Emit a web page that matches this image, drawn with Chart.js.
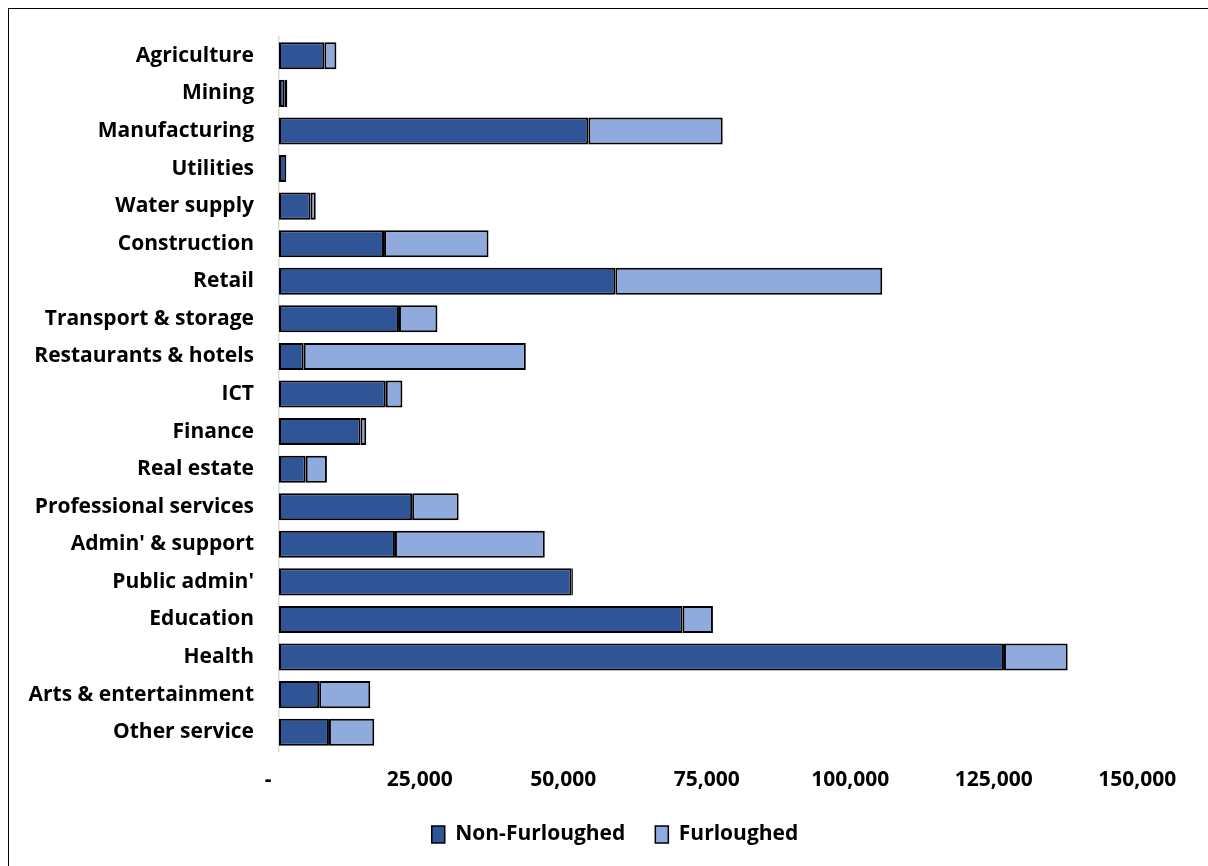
<!DOCTYPE html>
<html>
<head>
<meta charset="utf-8">
<script src="https://cdn.jsdelivr.net/npm/chart.js@4"></script>
<style>
  body { margin: 0; background: #fff; }
  #frame {
    position: absolute; left: 8px; top: 8px; width: 1210px; height: 870px;
    border: 1.5px solid #000; box-sizing: border-box;
  }
  #wrap { position: absolute; left: 8px; top: 8px; width: 1200px; height: 858px; }
</style>
</head>
<body>
<div id="frame"></div>
<div id="wrap"><canvas id="chart"></canvas></div>
<script>
// sectors, top to bottom
const sectors = [
    "Agriculture", "Mining", "Manufacturing", "Utilities", "Water supply",
    "Construction", "Retail", "Transport & storage", "Restaurants & hotels", "ICT",
    "Finance", "Real estate", "Professional services", "Admin' & support", "Public admin'",
    "Education", "Health", "Arts & entertainment", "Other service"
];

// employees not on furlough
const nonFurloughed = [
    7900, 1000, 53900, 1270, 5500,
    18300, 58600, 20900, 4300, 18600,
    14200, 4650, 23200, 20200, 51000,
    70300, 126300, 7000, 8700
];

// employees on furlough
const furloughed = [
    2100, 450, 23400, 0, 900,
    18200, 46500, 6700, 38700, 2900,
    1000, 3700, 8100, 26100, 200,
    5300, 11100, 8900, 7900
];

const xTicks = [0, 25000, 50000, 75000, 100000, 125000, 150000];

const FONT = "'Open Sans', sans-serif";
const labelFont = { family: FONT, size: 21, weight: 'bold' };

const barStyle = { borderColor: '#000', borderWidth: 2, borderSkipped: false,
                   barPercentage: 0.72, categoryPercentage: 1 };

new Chart(document.getElementById('chart'), {
    type: 'bar',
    data: {
        labels: sectors,
        datasets: [
            { label: 'Non-Furloughed', data: nonFurloughed, backgroundColor: '#2F5597', ...barStyle },
            { label: 'Furloughed', data: furloughed, backgroundColor: '#8FAADC', ...barStyle }
        ]
    },
    options: {
        indexAxis: 'y',
        responsive: true,
        maintainAspectRatio: false,
        animation: false,
        layout: { padding: { top: 29, right: 0, left: 14, bottom: 11 } },
        plugins: {
            tooltip: { enabled: false },
            legend: {
                position: 'bottom',
                labels: {
                    color: '#000',
                    font: labelFont,
                    boxWidth: 13, boxHeight: 17, padding: 30,
                    generateLabels: chart => chart.data.datasets.map((ds, i) => ({
                        text: ds.label, fillStyle: ds.backgroundColor, strokeStyle: '#000',
                        lineWidth: 1.5, datasetIndex: i, fontColor: '#000'
                    }))
                }
            }
        },
        scales: {
            x: {
                stacked: true,
                min: 0, max: 150000,
                afterBuildTicks: s => { s.ticks = xTicks.map(v => ({ value: v })); },
                grid: { display: false, drawTicks: false },
                border: { display: false },
                ticks: {
                    padding: 16,
                    color: '#000',
                    font: labelFont,
                    callback: v => v === 0 ? '-    ' : v.toLocaleString('en-US') + ' '
                },
                afterFit: s => { s.height = 43; s.paddingRight = 68; }
            },
            y: {
                stacked: true,
                grid: { display: false, drawTicks: false },
                border: { display: true, color: '#d9d9d9', width: 1.5 },
                ticks: {
                    padding: 25,
                    color: '#000',
                    font: labelFont,
                    autoSkip: false
                },
                afterFit: s => { s.width = 257; s.paddingTop = 0; s.paddingBottom = 0; }
            }
        }
    }
});
</script>
</body>
</html>
